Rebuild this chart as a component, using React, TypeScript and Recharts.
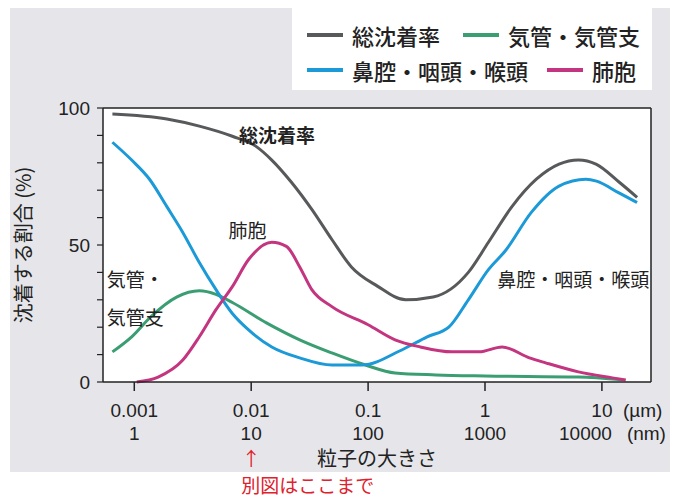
import { LineChart, Line, XAxis, YAxis, CartesianGrid, ReferenceLine, ReferenceDot } from "recharts";

// 粒子の大きさ (µm) と沈着する割合 (%) — 図から読み取った値
const totalSize = [0.00065, 0.0019, 0.0036, 0.0069, 0.011, 0.015, 0.022, 0.033, 0.049, 0.072, 0.12, 0.21, 0.36, 0.72, 1.07, 1.7, 2.75, 4.3, 6.3, 8.9, 14, 20];
const totalPct = [97.8, 96, 93.4, 89.7, 86, 81, 73, 63, 52, 42, 35, 30, 31, 40, 51, 64, 74, 79.5, 81, 79.5, 73, 67.4];

const tracheaSize = [0.00065, 0.00095, 0.0014, 0.0023, 0.0036, 0.005, 0.0069, 0.0135, 0.026, 0.049, 0.095, 0.17, 0.38, 1.0, 6.3, 15];
const tracheaPct = [11, 16.5, 24, 31, 33.3, 32, 29, 21.6, 15.4, 10.6, 6.2, 3.3, 2.6, 2.2, 1.8, 0.8];

const nasalSize = [0.00065, 0.00095, 0.00135, 0.0019, 0.0026, 0.0036, 0.005, 0.0069, 0.0095, 0.015, 0.026, 0.049, 0.089, 0.19, 0.32, 0.49, 0.72, 1.07, 1.5, 2.5, 4.3, 7.3, 9, 14, 20];
const nasalPct = [87.5, 81, 74, 64, 54.6, 43.6, 33.7, 25, 19, 12.8, 8.8, 6.2, 6.2, 11.5, 16.5, 20, 30, 41, 48, 62, 71.5, 74, 73.3, 69, 65.5];

const alveolarSize = [0.00105, 0.0016, 0.0026, 0.0036, 0.005, 0.0069, 0.0095, 0.015, 0.02, 0.026, 0.033, 0.049, 0.1, 0.17, 0.28, 0.52, 0.89, 1.4, 2.4, 3.3, 6.3, 12.3, 16];
const alveolarPct = [0, 1.8, 8, 16.5, 26.4, 34.8, 44.7, 51, 49.5, 42, 33.7, 27.5, 20.9, 15.4, 12.8, 11, 11, 12.8, 8.8, 7, 3.7, 1.5, 0.7];

const xTicks = [0.001, 0.01, 0.1, 1, 10];
const xTickUm = ["0.001", "0.01", "0.1", "1", "10"];
const xTickNm = ["1", "10", "100", "1000", "10000"];
const yTicks = [0, 10, 20, 30, 40, 50, 60, 70, 80, 90, 100];

const seriesNames = ["総沈着率", "気管・気管支", "鼻腔・咽頭・喉頭", "肺胞"];

const JP = "'Noto Sans CJK JP', sans-serif";
const NUM = "'Liberation Sans', Arial, sans-serif";
const INK = "#222";
const X_MIN = 0.00054;
const X_MAX = 26.3;

const toPoints = (sizes: number[], pct: number[]) => sizes.map((size, i) => ({ size, pct: pct[i] }));

const series = [
  { name: seriesNames[0], color: "#58595b", data: toPoints(totalSize, totalPct) },
  { name: seriesNames[1], color: "#3a9e72", data: toPoints(tracheaSize, tracheaPct) },
  { name: seriesNames[2], color: "#1b9ad7", data: toPoints(nasalSize, nasalPct) },
  { name: seriesNames[3], color: "#c4357f", data: toPoints(alveolarSize, alveolarPct) },
];

// 凡例: 2段、右列の開始位置は段ごとに違う
const legendRows = [
  [{ s: 0, left: 15 }, { s: 1, left: 171 }],
  [{ s: 2, left: 15 }, { s: 3, left: 255 }],
];

function XTick({ x, y, payload }: any) {
  const i = xTicks.indexOf(payload.value);
  const last = i === xTicks.length - 1;
  const common = { fontSize: 19, fill: INK, fontFamily: NUM };
  if (last) {
    return (
      <g>
        <text x={x} y={y + 24} textAnchor="middle" {...common}>{xTickUm[i]}</text>
        <text x={x + 21} y={y + 24} textAnchor="start" {...common}>(µm)</text>
        <text x={x + 10} y={y + 47} textAnchor="end" {...common}>{xTickNm[i]}</text>
        <text x={x + 25} y={y + 47} textAnchor="start" {...common}>(nm)</text>
      </g>
    );
  }
  return (
    <g>
      <text x={x} y={y + 24} textAnchor="middle" {...common}>{xTickUm[i]}</text>
      <text x={x} y={y + 47} textAnchor="middle" {...common}>{xTickNm[i]}</text>
    </g>
  );
}

const note = (text: string, anchor: "start" | "middle", bold = false) => (p: any) => (
  <text
    x={p.viewBox.x}
    y={p.viewBox.y}
    textAnchor={anchor}
    dominantBaseline="central"
    fontSize={19}
    fontWeight={bold ? 700 : 400}
    fill={INK}
    fontFamily={JP}
  >
    {text}
  </text>
);

// 0.01 µm の下に「別図はここまで」
const limitNote = (p: any) => (
  <g fontFamily={JP} fill="#e0202c">
    <text x={p.viewBox.x} y={p.viewBox.y + 75} textAnchor="middle" dominantBaseline="central" fontSize={19}>↑</text>
    <text x={p.viewBox.x - 10} y={p.viewBox.y + 102} textAnchor="start" dominantBaseline="central" fontSize={19}>別図はここまで</text>
  </g>
);

export default function App() {
  return (
    <div style={{ position: "absolute", left: 0, top: 0, width: 680, height: 499, background: "#fff" }}>
      <div style={{ position: "absolute", left: 10, top: 8, width: 660, height: 464, background: "#e6e6ea" }} />
      <div style={{ position: "absolute", left: 0, top: 0 }}>
        <LineChart width={680} height={499} margin={{ top: 108, right: 29, bottom: 57, left: 53 }}>
          <CartesianGrid fill="#fff" horizontal={false} vertical={false} />
          <XAxis
            dataKey="size"
            type="number"
            scale="log"
            domain={[X_MIN, X_MAX]}
            ticks={xTicks}
            interval={0}
            height={60}
            allowDuplicatedCategory={false}
            axisLine={{ stroke: INK, strokeWidth: 1.5 }}
            tickLine={{ stroke: INK, strokeWidth: 1.5 }}
            tickSize={9}
            tick={<XTick />}
            label={{
              content: (p: any) => (
                <text
                  x={p.viewBox.x + p.viewBox.width / 2}
                  y={p.viewBox.y + 75}
                  textAnchor="middle"
                  dominantBaseline="central"
                  fontSize={20}
                  fill={INK}
                  fontFamily={JP}
                >
                  粒子の大きさ
                </text>
              ),
            }}
          />
          <YAxis
            type="number"
            domain={[0, 100]}
            ticks={yTicks}
            interval={0}
            width={50}
            axisLine={{ stroke: INK, strokeWidth: 1.5 }}
            tickLine={{ stroke: INK, strokeWidth: 1.2 }}
            tickSize={6}
            tickMargin={7}
            tick={{ fontSize: 19, fill: INK, fontFamily: NUM }}
            tickFormatter={(v: number) => (v % 50 === 0 ? String(v) : "")}
            label={{
              content: (p: any) => {
                const cx = p.viewBox.x - 31;
                const cy = p.viewBox.y + p.viewBox.height / 2;
                return (
                  <text
                    x={cx}
                    y={cy}
                    transform={`rotate(-90 ${cx} ${cy})`}
                    textAnchor="middle"
                    dominantBaseline="central"
                    fontSize={20}
                    fill={INK}
                    fontFamily={JP}
                  >
                    沈着する割合 (%)
                  </text>
                );
              },
            }}
          />
          <ReferenceLine y={100} stroke={INK} strokeWidth={1.5} />
          <ReferenceLine x={X_MAX} stroke={INK} strokeWidth={1.5} />
          {series.map((s) => (
            <Line
              key={s.name}
              data={s.data}
              dataKey="pct"
              name={s.name}
              type="monotone"
              stroke={s.color}
              strokeWidth={3}
              dot={false}
              activeDot={false}
              isAnimationActive={false}
            />
          ))}
          <ReferenceDot x={0.0166} y={90.5} r={0} fill="none" stroke="none" label={note("総沈着率", "middle", true)} />
          <ReferenceDot x={0.0093} y={55.7} r={0} fill="none" stroke="none" label={note("肺胞", "middle")} />
          <ReferenceDot x={0.00058} y={37.7} r={0} fill="none" stroke="none" label={note("気管・", "start")} />
          <ReferenceDot x={0.00058} y={23.8} r={0} fill="none" stroke="none" label={note("気管支", "start")} />
          <ReferenceDot x={5.7} y={37.7} r={0} fill="none" stroke="none" ifOverflow="visible" label={note("鼻腔・咽頭・喉頭", "middle")} />
          <ReferenceDot x={0.01} y={0} r={0} fill="none" stroke="none" ifOverflow="visible" label={limitNote} />
        </LineChart>
      </div>
      <div style={{ position: "absolute", left: 292, top: 8, width: 360, height: 82, background: "#fff" }}>
        {legendRows.map((row, r) =>
          row.map((item) => {
            const s = series[item.s];
            return (
              <div
                key={s.name}
                style={{
                  position: "absolute",
                  left: item.left,
                  top: 27 + r * 35 - 15,
                  height: 30,
                  display: "flex",
                  alignItems: "center",
                  fontFamily: JP,
                  fontSize: 22,
                  fontWeight: 500,
                  color: INK,
                  whiteSpace: "nowrap",
                }}
              >
                <span style={{ display: "inline-block", width: 36, height: 3.5, background: s.color, marginRight: 9 }} />
                {s.name}
              </div>
            );
          })
        )}
      </div>
    </div>
  );
}
